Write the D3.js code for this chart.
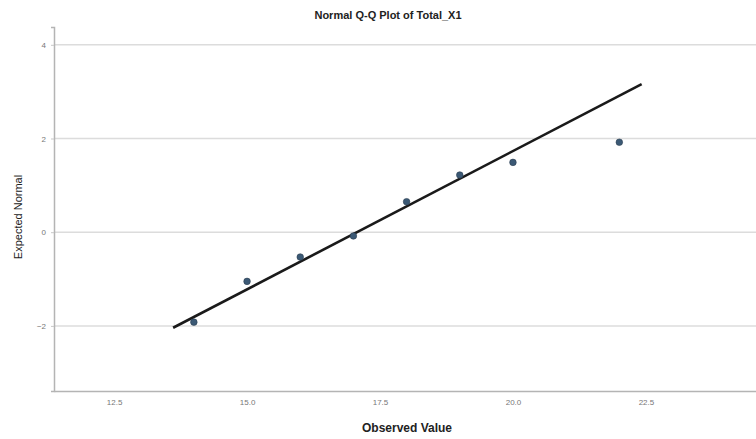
<!DOCTYPE html>
<html>
<head>
<meta charset="utf-8">
<script src="https://cdn.jsdelivr.net/npm/d3@7"></script>
<style>
  body { margin: 0; background: #fff; }
  svg { display: block; font-family: Arial, "Liberation Sans", sans-serif; }
</style>
</head>
<body>
<svg id="chart" width="756" height="439"></svg>
<script>
const observed = [14, 15, 16, 17, 18, 19, 20, 22];
const expected = [-1.92, -1.05, -0.53, -0.08, 0.65, 1.22, 1.49, 1.92];

// reference line ends
const lineX = [13.61, 22.42];
const lineY = [-2.04, 3.16];

const xTicks = [12.5, 15.0, 17.5, 20.0, 22.5];
const yTicks = [-2, 0, 2, 4];

const svg = d3.select('#chart');
const plotLeft = 54, plotRight = 756, plotTop = 27, plotBottom = 391;

const x = d3.scaleLinear().domain([11.37, 24.57]).range([plotLeft, plotRight]);
const y = d3.scaleLinear().domain([-3.39, 4.38]).range([plotBottom, plotTop]);

// grid lines
svg.append('g')
    .selectAll('line')
    .data(yTicks)
    .enter().append('line')
    .attr('x1', plotLeft)
    .attr('x2', plotRight)
    .attr('y1', d => y(d))
    .attr('y2', d => y(d))
    .style('stroke', '#dcdcdc')
    .style('stroke-width', 1.5);

// axes
const yAxis = svg.append('g')
    .attr('transform', `translate(${plotLeft},0)`)
    .call(d3.axisLeft(y).tickValues(yTicks).tickSize(3).tickPadding(5).tickFormat(d3.format('d')));

const xAxis = svg.append('g')
    .attr('transform', `translate(0,${plotBottom})`)
    .call(d3.axisBottom(x).tickValues(xTicks).tickSize(0).tickPadding(8).tickFormat(d3.format('.1f')));

[yAxis, xAxis].forEach(a => {
    a.select('.domain').style('stroke', '#b4b4b4').style('stroke-width', 1.5);
    a.selectAll('.tick line').style('stroke', '#c8c8c8');
    a.selectAll('text').style('fill', '#777').style('font-size', '8px');
});

// reference line
svg.append('line')
    .attr('x1', x(lineX[0]))
    .attr('y1', y(lineY[0]))
    .attr('x2', x(lineX[1]))
    .attr('y2', y(lineY[1]))
    .style('stroke', '#1a1a1a')
    .style('stroke-width', 2.6);

// points
svg.append('g')
    .selectAll('circle')
    .data(observed)
    .enter().append('circle')
    .attr('cx', d => x(d))
    .attr('cy', (d, i) => y(expected[i]))
    .attr('r', 3.3)
    .style('fill', '#3b5975')
    .style('stroke', '#2c3e50')
    .style('stroke-width', 0.6);

// titles
svg.append('text')
    .attr('x', 388)
    .attr('y', 19)
    .attr('text-anchor', 'middle')
    .style('font-size', '11px')
    .style('font-weight', 'bold')
    .style('fill', '#222')
    .text('Normal Q-Q Plot of Total_X1');

svg.append('text')
    .attr('x', 407)
    .attr('y', 432)
    .attr('text-anchor', 'middle')
    .style('font-size', '12px')
    .style('font-weight', 'bold')
    .style('fill', '#222')
    .text('Observed Value');

svg.append('text')
    .attr('transform', 'translate(22,217) rotate(-90)')
    .attr('text-anchor', 'middle')
    .style('font-size', '11px')
    .style('fill', '#222')
    .text('Expected Normal');
</script>
</body>
</html>
